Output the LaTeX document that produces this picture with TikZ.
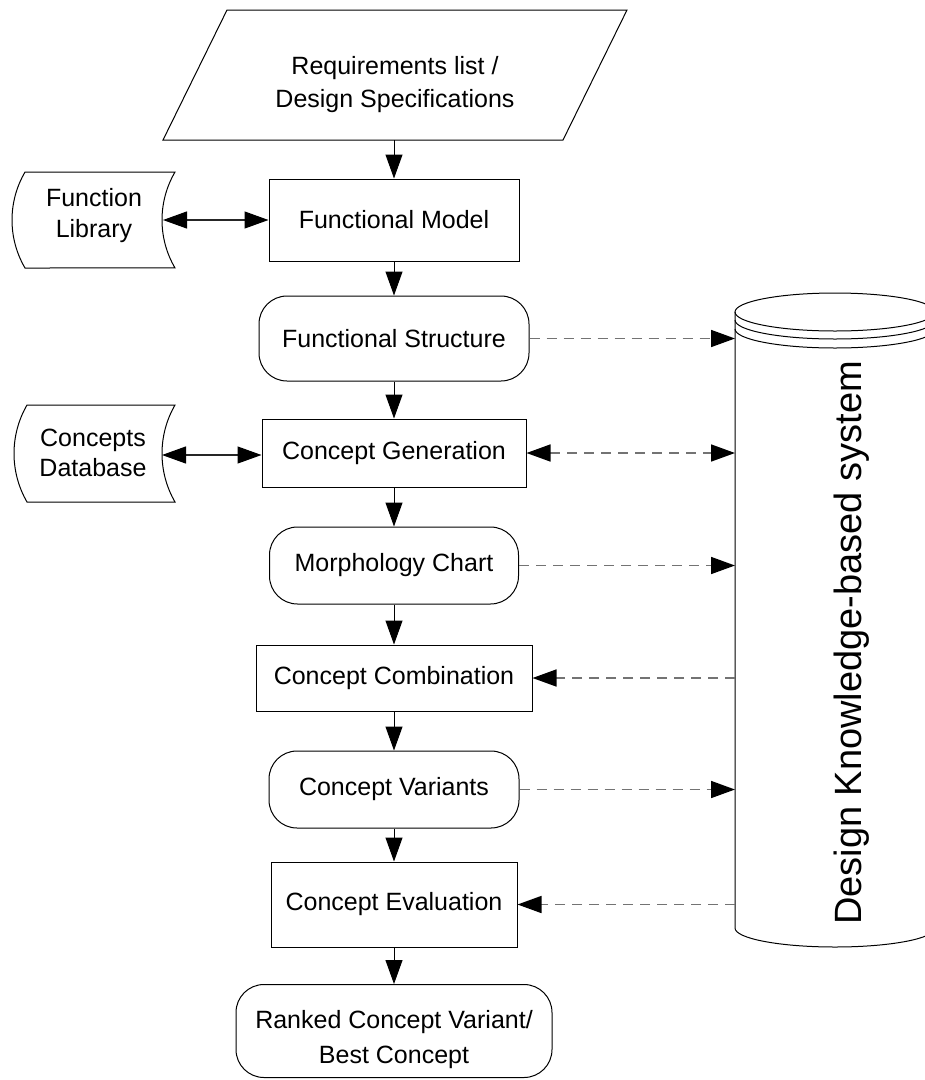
\documentclass[tikz,border=0pt]{standalone}
\usepackage{fontspec}
\setmainfont{Liberation Sans}
\usetikzlibrary{arrows.meta}
\tikzset{
  lbl/.style={font=\fontsize{25}{31}\selectfont, inner sep=0pt, align=center},
  procbox/.style={lbl, draw=black, line width=1pt},
  termbox/.style={lbl, draw=black, line width=1pt, rounded corners=28pt},
  shapeline/.style={draw=black, line width=1pt},
  flow/.style={draw=black, line width=1pt, -{Triangle[length=24pt,width=17pt]}},
  link/.style={draw=black!85, line width=1.2pt, {Triangle[length=24pt,width=17pt,color=black]}-{Triangle[length=24pt,width=17pt,color=black]}},
  kbarrow/.style={draw=black!55, line width=1.6pt, dash pattern=on 10pt off 7pt,
    -{Triangle[length=24pt,width=17pt,color=black,fill=black]}},
  kbboth/.style={draw=black!55, line width=1.6pt, dash pattern=on 10pt off 7pt,
    {Triangle[length=24pt,width=17pt,color=black,fill=black]}-{Triangle[length=24pt,width=17pt,color=black,fill=black]}}
}
\begin{document}
\begin{tikzpicture}[x=1pt,y=-1pt]
\useasboundingbox (0,0) rectangle (925,1080);
\clip (0,0) rectangle (925,1080);

% input data: requirements (parallelogram)
\draw[shapeline] (227,10) -- (627,10) -- (563,140) -- (163,140) -- cycle;
\node[lbl, font=\fontsize{25}{33}\selectfont] (req) at (395,85) {Requirements list /\\Design Specifications};
\coordinate (reqb) at (394,140);

% stored-data shapes on the left
\draw[shapeline] (25,172) -- (175,172) arc[start angle=210.3, end angle=149.7, radius=95.1]
  -- (25,268) arc[start angle=149.7, end angle=210.3, radius=95.1] -- cycle;
\node[lbl] (fl) at (94,216) {Function\\Library};
\coordinate (flr) at (163,220);

\draw[shapeline] (27,405) -- (175,405) arc[start angle=210, end angle=150, radius=97]
  -- (27,502) arc[start angle=150, end angle=210, radius=97] -- cycle;
\node[lbl, font=\fontsize{25}{30}\selectfont] (cdb) at (93,453) {Concepts\\Database};
\coordinate (cdbr) at (162,455);

% knowledge base (cylinder)
\draw[shapeline] (835,312) ellipse [x radius=100, y radius=19];
\draw[shapeline] (735,320) arc[start angle=180, end angle=0, x radius=100, y radius=19];
\draw[shapeline] (735,329) arc[start angle=180, end angle=0, x radius=100, y radius=19];
\draw[shapeline] (735,312) -- (735,928) arc[start angle=180, end angle=0, x radius=100, y radius=19] -- (935,312);
\coordinate (kb) at (735,0);
\node[lbl, font=\fontsize{38}{40}\selectfont, rotate=90, anchor=base] (kbtext) at (861,643) {Design Knowledge-based system};

% process chain
\node[procbox, minimum width=250pt, minimum height=82pt] (fm) at (394,220) {Functional Model};
\node[termbox, minimum width=270pt, minimum height=85pt] (fs) at (394,338.5) {Functional Structure};
\node[procbox, minimum width=264pt, minimum height=68pt] (cg) at (394,453) {Concept Generation};
\node[termbox, minimum width=249pt, minimum height=77pt] (mc) at (394,565.5) {Morphology Chart};
\node[procbox, minimum width=276pt, minimum height=66pt] (cc) at (394,678) {Concept Combination};
\node[termbox, minimum width=250pt, minimum height=77pt] (cv) at (394,789.5) {Concept Variants};
\node[procbox, minimum width=246pt, minimum height=85pt] (ce) at (394,904.5) {Concept Evaluation};
\node[termbox, minimum width=316pt, minimum height=93pt] (rk) at (394,1031) {};
\node[lbl, font=\fontsize{25}{35}\selectfont] (rktext) at (394,1040) {Ranked Concept Variant/\\Best Concept};

% main flow
\draw[flow] (reqb) -- (fm.north);
\draw[flow] (fm) -- (fs);
\draw[flow] (fs) -- (cg);
\draw[flow] (cg) -- (mc);
\draw[flow] (mc) -- (cc);
\draw[flow] (cc) -- (cv);
\draw[flow] (cv) -- (ce);
\draw[flow] (ce) -- (rk);

% library links
\draw[link] (flr) -- (fm.west);
\draw[link] (cdbr) -- (cdbr -| cg.west);

% knowledge base links
\draw[kbarrow] (fs.east) -- (fs.east -| kb);
\draw[kbboth] (cg.east) -- (cg.east -| kb);
\draw[kbarrow] (mc.east) -- (mc.east -| kb);
\draw[kbarrow] (cc.east -| kb) -- (cc.east);
\draw[kbarrow] (cv.east) -- (cv.east -| kb);
\draw[kbarrow] (ce.east -| kb) -- (ce.east);
\end{tikzpicture}
\end{document}
